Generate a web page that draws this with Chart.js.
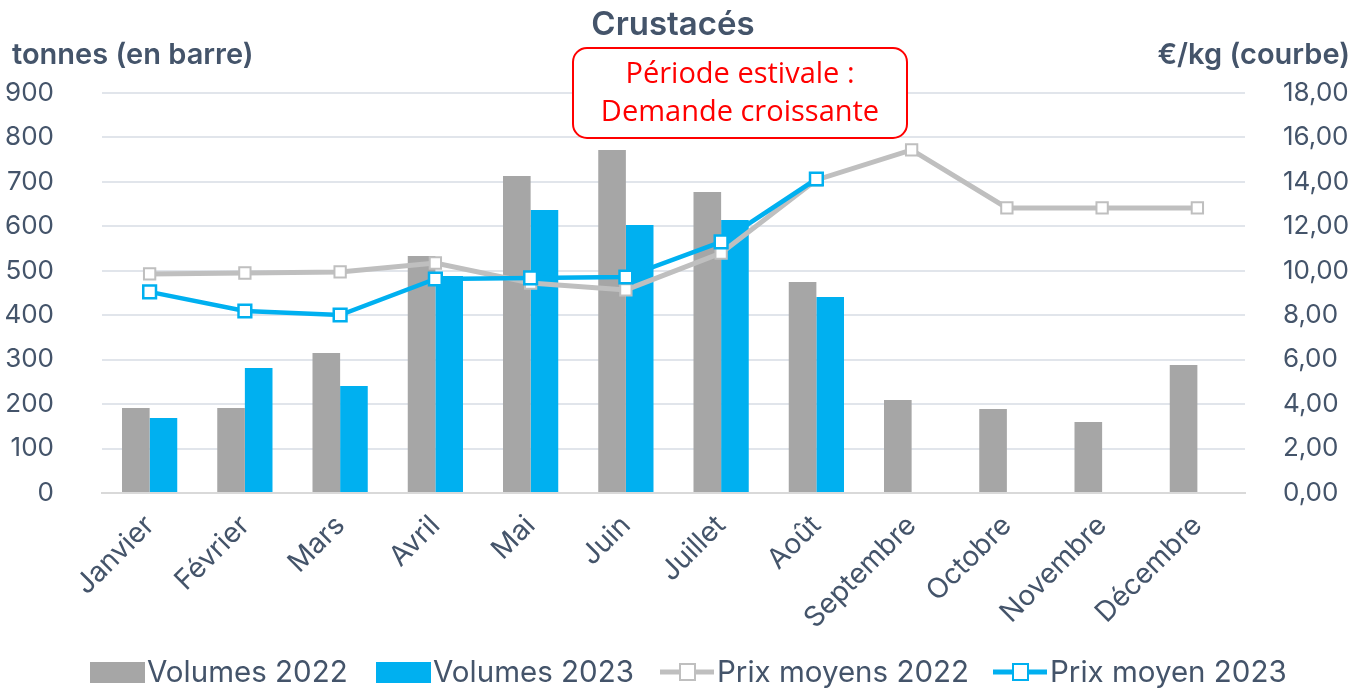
<!DOCTYPE html>
<html>
<head>
<meta charset="utf-8">
<script src="https://cdn.jsdelivr.net/npm/chart.js@4.4.0/dist/chart.umd.min.js"></script>
<style>
  html, body { margin: 0; padding: 0; background: #fff; }
  #wrap { width: 1356px; height: 689px; position: relative; }
</style>
</head>
<body>
<div id="wrap"><canvas id="chart" width="1356" height="689"></canvas></div>
<script>
const months = ['Janvier', 'Février', 'Mars', 'Avril', 'Mai', 'Juin', 'Juillet', 'Août', 'Septembre', 'Octobre', 'Novembre', 'Décembre'];
const volumes2022 = [191, 191, 315, 533, 713, 772, 677, 475, 209, 189, 160, 288];
const volumes2023 = [169, 281, 241, 488, 637, 603, 614, 441, null, null, null, null];
const prix2022 = [9.86, 9.9, 9.95, 10.35, 9.45, 9.14, 10.8, 14.09, 15.44, 12.83, 12.83, 12.83];
const prix2023 = [9.05, 8.19, 8.01, 9.63, 9.68, 9.72, 11.3, 14.13, null, null, null, null];
const leftTicks = [0, 100, 200, 300, 400, 500, 600, 700, 800, 900];
const rightTicks = [0, 2, 4, 6, 8, 10, 12, 14, 16, 18];

const textColor = '#44546a';
const fontFamily = 'Inter, Lato, sans-serif';
const gray = '#a6a6a6';
const blue = '#00b0f0';
const lineGray = '#bfbfbf';

// titles, annotation box and legend drawn on the canvas
const extras = {
    id: 'extras',
    afterDraw(chart) {
        const c = chart.ctx;
        c.save();
        c.fillStyle = textColor;
        c.font = '600 33px ' + fontFamily;
        c.textAlign = 'center';
        c.textBaseline = 'middle';
        c.fillText('Crustacés', 673, 25);
        c.font = '600 29px ' + fontFamily;
        c.textAlign = 'left';
        c.fillText('tonnes (en barre)', 12, 55);
        c.textAlign = 'right';
        c.fillText('€/kg (courbe)', 1350, 55);

        // annotation
        const bx = 573, by = 48, bw = 334, bh = 90;
        c.beginPath();
        c.roundRect(bx, by, bw, bh, 14);
        c.fillStyle = '#ffffff';
        c.fill();
        c.lineWidth = 2;
        c.strokeStyle = '#ff0000';
        c.stroke();
        c.fillStyle = '#ff0000';
        c.font = '29px "Open Sans", sans-serif';
        c.textAlign = 'center';
        c.fillText('Période estivale :', bx + bw / 2, by + 27);
        c.fillText('Demande croissante', bx + bw / 2, by + 65);

        // legend
        const items = [
            { x: 90, type: 'bar', color: gray, label: chart.data.datasets[0].label },
            { x: 376, type: 'bar', color: blue, label: chart.data.datasets[1].label },
            { x: 660, type: 'line', color: lineGray, label: chart.data.datasets[2].label },
            { x: 993, type: 'line', color: blue, label: chart.data.datasets[3].label }
        ];
        const ly = 672;
        c.font = '29.5px ' + fontFamily;
        c.textAlign = 'left';
        items.forEach(it => {
            if (it.type === 'bar') {
                c.fillStyle = it.color;
                c.fillRect(it.x, ly - 10, 55, 21);
            } else {
                c.strokeStyle = it.color;
                c.lineWidth = 5;
                c.beginPath();
                c.moveTo(it.x, ly);
                c.lineTo(it.x + 54, ly);
                c.stroke();
                c.fillStyle = '#ffffff';
                c.lineWidth = 2;
                c.fillRect(it.x + 20, ly - 8, 15, 16);
                c.strokeRect(it.x + 20, ly - 8, 15, 16);
            }
            c.fillStyle = textColor;
            c.fillText(it.label, it.x + 57, ly + 1);
        });
        c.restore();
    }
};

new Chart(document.getElementById('chart').getContext('2d'), {
    type: 'bar',
    data: {
        labels: months,
        datasets: [
            {
                label: 'Volumes 2022',
                data: volumes2022,
                backgroundColor: gray,
                yAxisID: 'y',
                order: 3,
                categoryPercentage: 0.58,
                barPercentage: 1.0
            },
            {
                label: 'Volumes 2023',
                data: volumes2023,
                backgroundColor: blue,
                yAxisID: 'y',
                order: 3,
                categoryPercentage: 0.58,
                barPercentage: 1.0
            },
            {
                type: 'line',
                label: 'Prix moyens 2022',
                data: prix2022,
                yAxisID: 'y1',
                borderColor: lineGray,
                borderWidth: 5,
                pointStyle: 'rect',
                pointRadius: 8,
                pointBorderWidth: 2,
                pointBackgroundColor: '#ffffff',
                pointBorderColor: lineGray,
                order: 2
            },
            {
                type: 'line',
                label: 'Prix moyen 2023',
                data: prix2023,
                yAxisID: 'y1',
                borderColor: blue,
                borderWidth: 4.5,
                pointStyle: 'rect',
                pointRadius: 9,
                pointBorderWidth: 2.5,
                pointBackgroundColor: '#ffffff',
                pointBorderColor: blue,
                order: 1
            }
        ]
    },
    options: {
        responsive: false,
        animation: false,
        layout: { padding: { top: 93, left: 0, right: 0, bottom: 0 } },
        plugins: {
            legend: { display: false },
            tooltip: { enabled: false }
        },
        scales: {
            x: {
                afterFit: axis => { axis.height = 196; },
                grid: { display: false },
                border: { color: '#d9d9d9', width: 2 },
                ticks: {
                    color: textColor,
                    font: { family: fontFamily, size: 28 },
                    minRotation: 45,
                    maxRotation: 45,
                    padding: 8
                }
            },
            y: {
                position: 'left',
                min: 0,
                max: 900,
                afterFit: axis => { axis.width = 102; },
                afterBuildTicks: axis => { axis.ticks = leftTicks.map(v => ({ value: v })); },
                grid: { color: '#e1e5eb', lineWidth: 2, drawTicks: false },
                border: { display: false },
                ticks: {
                    color: textColor,
                    font: { family: fontFamily, size: 26 },
                    padding: 48
                }
            },
            y1: {
                position: 'right',
                min: 0,
                max: 18,
                afterFit: axis => { axis.width = 111; },
                afterBuildTicks: axis => { axis.ticks = rightTicks.map(v => ({ value: v })); },
                grid: { display: false },
                border: { display: false },
                ticks: {
                    color: textColor,
                    font: { family: fontFamily, size: 26 },
                    padding: 30,
                    callback: v => v.toFixed(2).replace('.', ',')
                }
            }
        }
    },
    plugins: [extras]
});
</script>
</body>
</html>
